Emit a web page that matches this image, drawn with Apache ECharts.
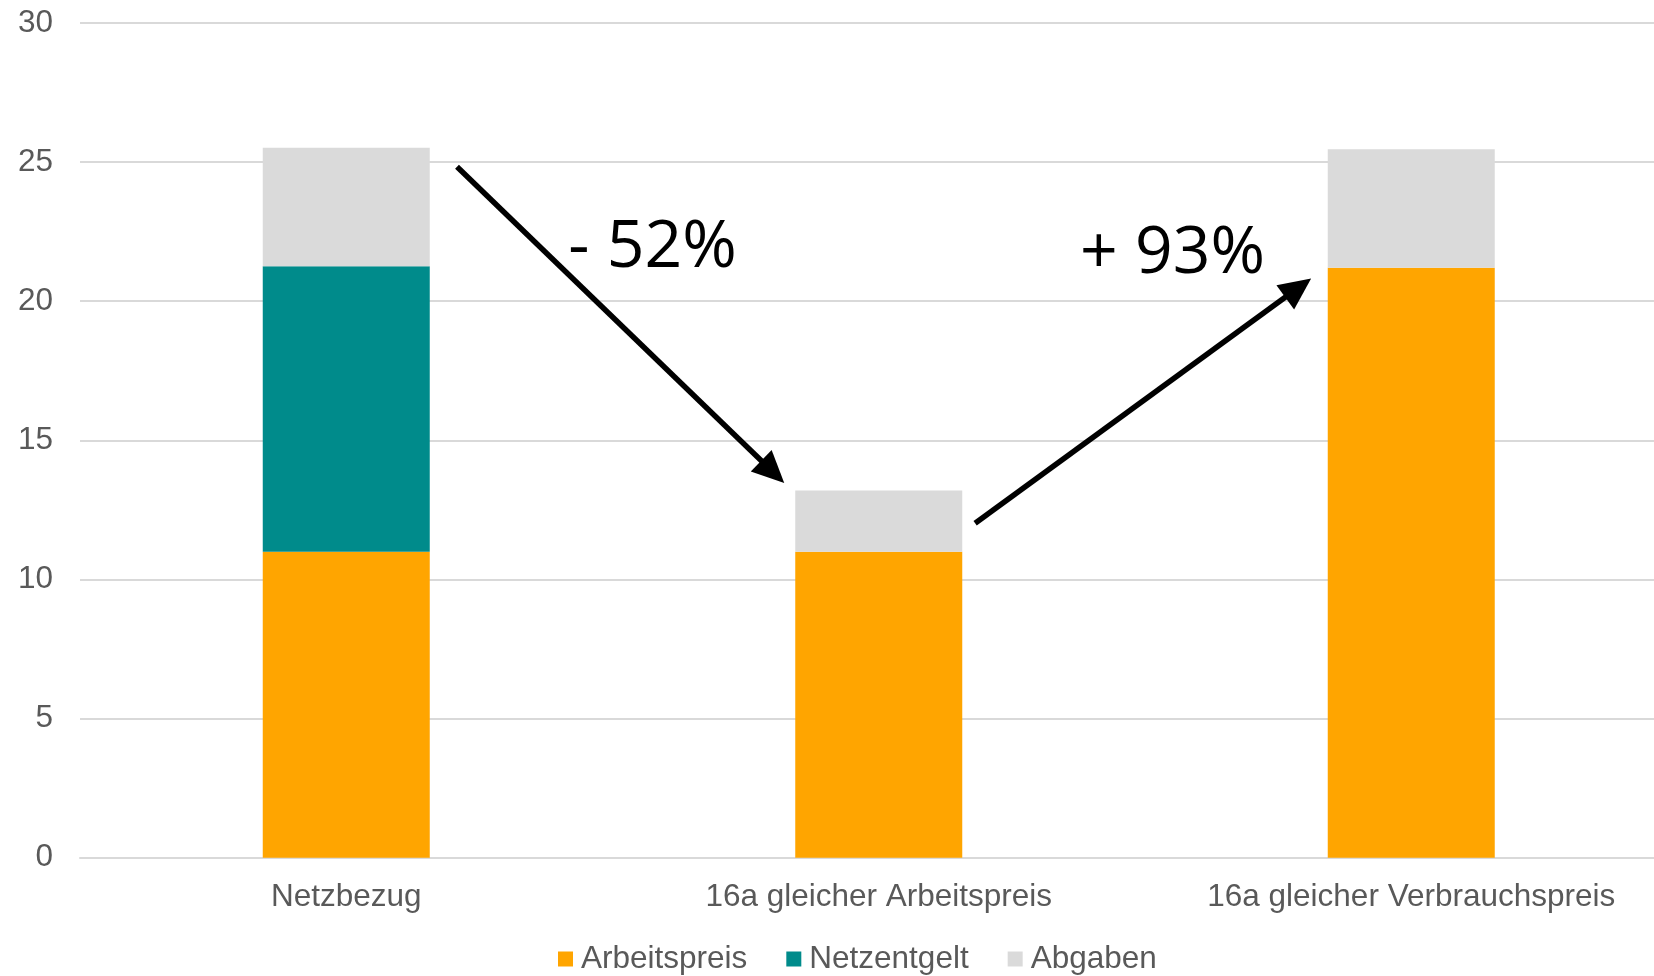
<!DOCTYPE html>
<html>
<head>
<meta charset="utf-8">
<script src="https://cdn.jsdelivr.net/npm/echarts@6/dist/echarts.min.js"></script>
<style>
html,body{margin:0;padding:0;background:#fff;overflow:hidden;}
#main{width:1654px;height:976px;}
</style>
</head>
<body>
<div id="main"></div>
<script>
// ---- data ----
const categories = ['Netzbezug', '16a gleicher Arbeitspreis', '16a gleicher Verbrauchspreis'];
const seriesNames = ['Arbeitspreis', 'Netzentgelt', 'Abgaben'];
const arbeitspreis = [11.0, 11.0, 21.2];
const netzentgelt = [10.26, 0, 0];
const abgaben = [4.26, 2.2, 4.26];
const yTicks = [0, 5, 10, 15, 20, 25, 30];
// annotation anchors in data space: [category position, value]
const arrowFrom = [[0.208, 24.83], [1.181, 12.02]];
const arrowTo = [[0.8225, 13.47], [1.812, 20.82]];
const changeTexts = ['- 52%', '+ 93%'];
const changeAt = [[0.417, 20.73], [1.378, 20.49]];

const colors = ['#FFA500', '#008B8B', '#DADADA'];
const labelColor = '#595959';
const font = '"Liberation Sans", Arial, sans-serif';

const chart = echarts.init(document.getElementById('main'), null, {renderer: 'canvas'});

const option = {
  animation: false,
  backgroundColor: '#ffffff',
  color: colors,
  grid: {left: 80, right: -23.5, top: 23, bottom: 118.3, containLabel: false, outerBoundsMode: 'none'},
  legend: {
    data: seriesNames,
    left: 553,
    top: 938,
    icon: 'rect',
    itemWidth: 15,
    itemHeight: 15,
    itemGap: 39,
    textStyle: {fontFamily: font, fontSize: 31.5, color: labelColor, padding: [0, 0, 0, 3]}
  },
  xAxis: {
    type: 'category',
    data: categories,
    axisTick: {show: false},
    axisLine: {show: true, lineStyle: {color: '#D9D9D9', width: 2}},
    axisLabel: {color: labelColor, fontFamily: font, fontSize: 31.5, margin: 24, interval: 0}
  },
  yAxis: {
    type: 'value',
    min: yTicks[0],
    max: yTicks[yTicks.length - 1],
    interval: 5,
    axisLine: {show: false},
    axisTick: {show: false},
    splitLine: {lineStyle: {color: '#D9D9D9', width: 2}},
    axisLabel: {color: labelColor, fontFamily: font, fontSize: 31.5, margin: 27}
  },
  series: [
    {name: seriesNames[0], type: 'bar', stack: 'total', data: arbeitspreis, barWidth: 167},
    {name: seriesNames[1], type: 'bar', stack: 'total', data: netzentgelt, barWidth: 167},
    {name: seriesNames[2], type: 'bar', stack: 'total', data: abgaben, barWidth: 167}
  ]
};
chart.setOption(option);

function toPx(pt) {
  const x0 = chart.convertToPixel({xAxisIndex: 0}, 0);
  const x1 = chart.convertToPixel({xAxisIndex: 0}, 1);
  const x = x0 + (x1 - x0) * pt[0];
  const y = chart.convertToPixel({yAxisIndex: 0}, pt[1]);
  return [x, y];
}

const graphics = [];
const headLen = 32, headHalf = 15, lineW = 5.5;
for (let i = 0; i < arrowFrom.length; i++) {
  const a = toPx(arrowFrom[i]);
  const b = toPx(arrowTo[i]);
  const dx = b[0] - a[0], dy = b[1] - a[1];
  const len = Math.sqrt(dx * dx + dy * dy);
  const ux = dx / len, uy = dy / len;
  const bx = b[0] - ux * headLen, by = b[1] - uy * headLen;
  graphics.push({
    type: 'line',
    shape: {x1: a[0], y1: a[1], x2: bx + ux * 2, y2: by + uy * 2},
    style: {stroke: '#000', lineWidth: lineW},
    z: 100
  });
  graphics.push({
    type: 'polygon',
    shape: {points: [[b[0], b[1]], [bx - uy * headHalf, by + ux * headHalf], [bx + uy * headHalf, by - ux * headHalf]]},
    style: {fill: '#000'},
    z: 100
  });
}
for (let i = 0; i < changeTexts.length; i++) {
  const p = toPx(changeAt[i]);
  graphics.push({
    type: 'text',
    x: p[0],
    y: p[1],
    style: {
      text: changeTexts[i],
      fill: '#000',
      font: '66px "Open Sans", sans-serif',
      textAlign: 'left',
      textVerticalAlign: 'bottom'
    },
    z: 100
  });
}
chart.setOption({graphic: graphics});
</script>
</body>
</html>
